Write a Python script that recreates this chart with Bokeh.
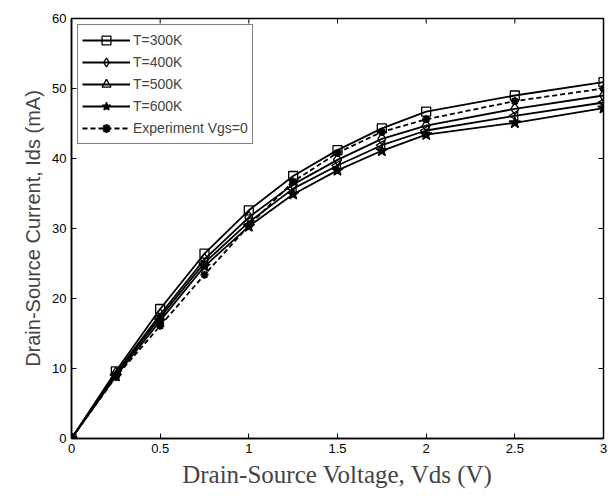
import math
from bokeh.plotting import figure
from bokeh.models import Range1d, FixedTicker, Legend, LegendItem
from bokeh.embed import file_html
from bokeh.resources import INLINE

vds = [0, 0.25, 0.5, 0.75, 1.0, 1.25, 1.5, 1.75, 2.0, 2.5, 3.0]
t300 = [0, 9.6, 18.5, 26.4, 32.6, 37.5, 41.2, 44.3, 46.7, 49.0, 50.9]
t400 = [0, 9.3, 17.7, 25.6, 31.6, 36.3, 39.8, 42.8, 44.7, 47.1, 49.0]
t500 = [0, 9.1, 17.3, 25.1, 30.9, 35.7, 39.0, 41.9, 44.0, 46.1, 48.0]
t600 = [0, 8.9, 16.8, 24.6, 30.3, 34.9, 38.3, 41.1, 43.4, 45.1, 47.2]
expt = [0, 8.8, 16.1, 23.4, 30.4, 36.7, 40.8, 43.8, 45.6, 48.2, 50.0]

x_ticks = [0, 0.5, 1, 1.5, 2, 2.5, 3]
y_ticks = [0, 10, 20, 30, 40, 50, 60]
labels = ["T=300K", "T=400K", "T=500K", "T=600K", "Experiment Vgs=0"]
X_MIN, X_MAX, Y_MIN, Y_MAX = 0, 3, 0, 60

p = figure(width=608, height=490, output_backend="svg", toolbar_location=None,
           x_range=Range1d(X_MIN, X_MAX), y_range=Range1d(Y_MIN, Y_MAX),
           min_border_left=71, min_border_right=5, min_border_top=18,
           min_border_bottom=52)
p.grid.visible = False
p.outline_line_color = "black"
p.outline_line_width = 1.5
p.background_fill_color = "white"

tick_font = "Liberation Sans"
for ax in (p.xaxis[0], p.yaxis[0]):
    ax.major_tick_in = 5
    ax.major_tick_out = 0
    ax.minor_tick_line_color = None
    ax.axis_line_width = 1.5
    ax.major_tick_line_width = 1
    ax.major_label_text_font = tick_font
    ax.major_label_text_font_size = "13px"
    ax.major_label_text_color = "black"
    ax.major_label_standoff = 5
p.xaxis[0].ticker = FixedTicker(ticks=x_ticks)
p.yaxis[0].ticker = FixedTicker(ticks=y_ticks)
p.xaxis[0].axis_label = "Drain-Source Voltage, Vds (V)"
p.xaxis[0].axis_label_text_font = "Liberation Serif"
p.xaxis[0].axis_label_text_font_style = "normal"
p.xaxis[0].axis_label_text_font_size = "25px"
p.xaxis[0].axis_label_standoff = 5
p.yaxis[0].axis_label = "Drain-Source Current, Ids (mA)"
p.yaxis[0].axis_label_text_font = "Liberation Sans"
p.yaxis[0].axis_label_text_font_style = "normal"
p.yaxis[0].axis_label_text_font_size = "20px"
p.yaxis[0].axis_label_standoff = 5

# inward tick marks on the top and right edges of the box
p.scatter(x_ticks, [Y_MAX] * len(x_ticks), marker="dash", angle=math.pi / 2,
          size=10, line_color="black", line_width=1)
p.scatter([X_MAX] * len(y_ticks), y_ticks, marker="dash", size=10,
          line_color="black", line_width=1)

series = [t300, t400, t500, t600, expt]
markers = [("square", 0, 9, None), ("diamond", 0, 12, None),
           ("triangle", math.pi / 2, 10, None), ("star", 0, 12, "black"),
           ("asterisk", 0, 8, "black")]
items = []
for i, (ys, (mk, ang, sz, fill)) in enumerate(zip(series, markers)):
    ln = p.line(vds, ys, line_color="black", line_width=1.8,
                line_dash="5 3" if i == 4 else "solid")
    sc = p.scatter(vds, ys, marker=mk, angle=ang, size=sz, line_color="black",
                   fill_color=fill, line_width=2.2 if i == 4 else 1.3)
    items.append(LegendItem(label=labels[i], renderers=[ln, sc]))

leg = Legend(items=items, location="top_left", margin=6, padding=4,
             spacing=0, glyph_width=48, glyph_height=22, label_height=22,
             label_standoff=3, label_text_font=tick_font,
             label_text_font_size="14px", border_line_color="black",
             border_line_width=1.5, background_fill_alpha=1.0)
p.add_layout(leg)

open("out.html", "w").write(file_html(p, INLINE))
